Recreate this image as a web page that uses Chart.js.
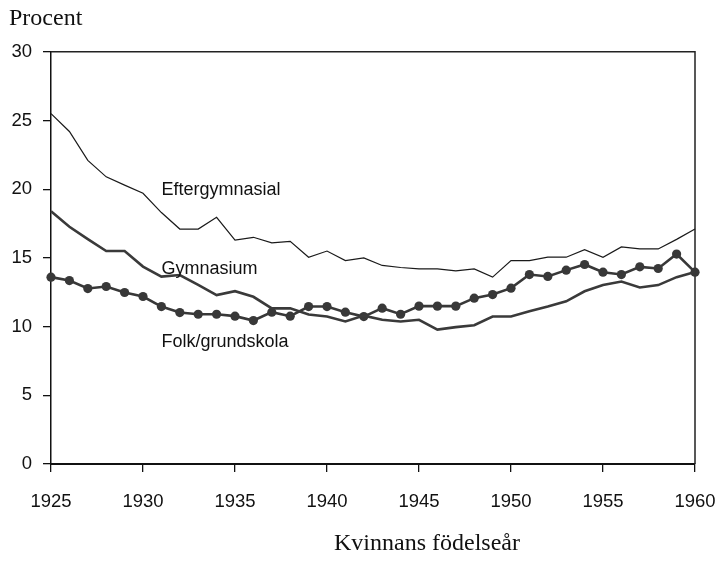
<!DOCTYPE html>
<html>
<head>
<meta charset="utf-8">
<script src="https://cdn.jsdelivr.net/npm/chart.js@4.4.1/dist/chart.umd.min.js"></script>
<style>
  body { margin: 0; background: #fff; }
  #wrap { width: 719px; height: 561px; }
</style>
</head>
<body>
<div id="wrap"><canvas id="chart-utbildning" width="719" height="561"></canvas></div>
<script>
// Kvinnans födelseår
const years = [1925, 1926, 1927, 1928, 1929, 1930, 1931, 1932, 1933, 1934,
  1935, 1936, 1937, 1938, 1939, 1940, 1941, 1942, 1943, 1944,
  1945, 1946, 1947, 1948, 1949, 1950, 1951, 1952, 1953, 1954,
  1955, 1956, 1957, 1958, 1959, 1960]

// Procent per utbildningsnivå
const eftergymnasial = [25.5, 24.2, 22.1, 20.9, 20.3, 19.7, 18.3, 17.1, 17.1, 17.95,
  16.3, 16.5, 16.1, 16.2, 15.05, 15.5, 14.8, 15.0, 14.45, 14.3,
  14.2, 14.2, 14.05, 14.2, 13.6, 14.8, 14.8, 15.05, 15.05, 15.6,
  15.05, 15.8, 15.65, 15.65, 16.35, 17.1]

const gymnasium = [18.4, 17.27, 16.37, 15.5, 15.5, 14.37, 13.64, 13.75, 13.04, 12.29,
  12.58, 12.17, 11.33, 11.33, 10.88, 10.73, 10.37, 10.8, 10.5, 10.37,
  10.5, 9.78, 9.96, 10.1, 10.73, 10.73, 11.12, 11.46, 11.84, 12.57,
  13.03, 13.28, 12.85, 13.02, 13.6, 13.97]

const folkgrundskola = [13.6, 13.35, 12.77, 12.92, 12.48, 12.19, 11.46, 11.02, 10.9, 10.9,
  10.76, 10.44, 11.05, 10.76, 11.46, 11.46, 11.05, 10.73, 11.34, 10.9,
  11.49, 11.49, 11.49, 12.07, 12.33, 12.8, 13.79, 13.65, 14.11, 14.52,
  13.96, 13.79, 14.35, 14.23, 15.28, 13.96]

const xTicks = [1925, 1930, 1935, 1940, 1945, 1950, 1955, 1960]
const yTicks = [0, 5, 10, 15, 20, 25, 30]

// Etiketter inne i diagrammet (x = år, y = procent)
const seriesLabels = [
  { text: 'Eftergymnasial', x: 1931, y: 19.95 },
  { text: 'Gymnasium', x: 1931, y: 14.2 },
  { text: 'Folk/grundskola', x: 1931, y: 8.85 },
]

const sans = "'Liberation Sans', Arial, sans-serif"
const serif = "'Liberation Serif', 'Times New Roman', serif"

const toPoints = (vals) => years.map((yr, i) => ({ x: yr, y: vals[i] }))

const textPlugin = {
  id: 'textPlugin',
  beforeDatasetsDraw(chart) {
    const { ctx, chartArea } = chart
    ctx.save()
    ctx.strokeStyle = '#222'
    ctx.lineWidth = 1.5
    ctx.beginPath()
    ctx.moveTo(chartArea.left, chartArea.top)
    ctx.lineTo(chartArea.right, chartArea.top)
    ctx.lineTo(chartArea.right, chartArea.bottom)
    ctx.stroke()
    ctx.restore()
  },
  afterDraw(chart) {
    const { ctx, chartArea, scales } = chart
    ctx.save()
    ctx.fillStyle = '#111'
    ctx.font = '18px ' + sans
    ctx.textAlign = 'left'
    ctx.textBaseline = 'middle'
    seriesLabels.forEach(l => {
      ctx.fillText(l.text, scales.x.getPixelForValue(l.x), scales.y.getPixelForValue(l.y))
    })
    // x-axelns titel
    ctx.font = '24px ' + serif
    ctx.textAlign = 'center'
    ctx.fillText('Kvinnans födelseår', (chartArea.left + chartArea.right) / 2 + 54, 544)
    ctx.restore()
  }
}

const lineStyle = {
  tension: 0,
  clip: false,
  fill: false,
}

const config_utb = {
  type: 'line',
  data: {
    datasets: [{
      label: 'Eftergymnasial',
      data: toPoints(eftergymnasial),
      borderColor: '#1a1a1a',
      borderWidth: 1.2,
      pointRadius: 0,
      ...lineStyle,
    },
    {
      label: 'Gymnasium',
      data: toPoints(gymnasium),
      borderColor: '#3a3a3a',
      borderWidth: 2.6,
      pointRadius: 0,
      ...lineStyle,
    },
    {
      label: 'Folk/grundskola',
      data: toPoints(folkgrundskola),
      borderColor: '#383838',
      backgroundColor: '#383838',
      borderWidth: 2.6,
      pointRadius: 4.6,
      pointBorderWidth: 0,
      pointBackgroundColor: '#383838',
      ...lineStyle,
    }]
  },
  options: {
    responsive: false,
    animation: false,
    layout: {
      padding: { left: 9, right: 24, top: 0, bottom: 47 }
    },
    plugins: {
      legend: { display: false },
      tooltip: { enabled: false },
      title: {
        display: true,
        text: 'Procent',
        align: 'start',
        color: '#111',
        font: { family: serif, size: 24, weight: 'normal', lineHeight: 1.2 },
        padding: { top: 4, bottom: 19 }
      }
    },
    scales: {
      x: {
        type: 'linear',
        min: 1925,
        max: 1960,
        afterBuildTicks: (scale) => { scale.ticks = xTicks.map(v => ({ value: v })) },
        afterFit: (scale) => {
          scale.height = 50
          scale.paddingLeft = 0
          scale.paddingRight = 0
        },
        grid: { drawOnChartArea: false, drawTicks: true, tickLength: 8, color: '#111', lineWidth: 1.3 },
        border: { display: true, color: '#111', width: 2 },
        ticks: {
          color: '#111',
          padding: 19,
          maxRotation: 0,
          font: { family: sans, size: 18.5 },
          callback: (v) => String(v)
        }
      },
      y: {
        min: 0,
        max: 30,
        afterBuildTicks: (scale) => { scale.ticks = yTicks.map(v => ({ value: v })) },
        afterFit: (scale) => { scale.width = 42 },
        grid: { drawOnChartArea: false, drawTicks: true, tickLength: 8, color: '#111', lineWidth: 1.3 },
        border: { display: true, color: '#111', width: 1.5 },
        ticks: {
          color: '#111',
          padding: 11,
          font: { family: sans, size: 18.5 },
          callback: (v) => String(v)
        }
      }
    }
  },
  plugins: [textPlugin]
}

const myChart_utb = new Chart(
  document.getElementById('chart-utbildning'),
  config_utb
)
</script>
</body>
</html>
